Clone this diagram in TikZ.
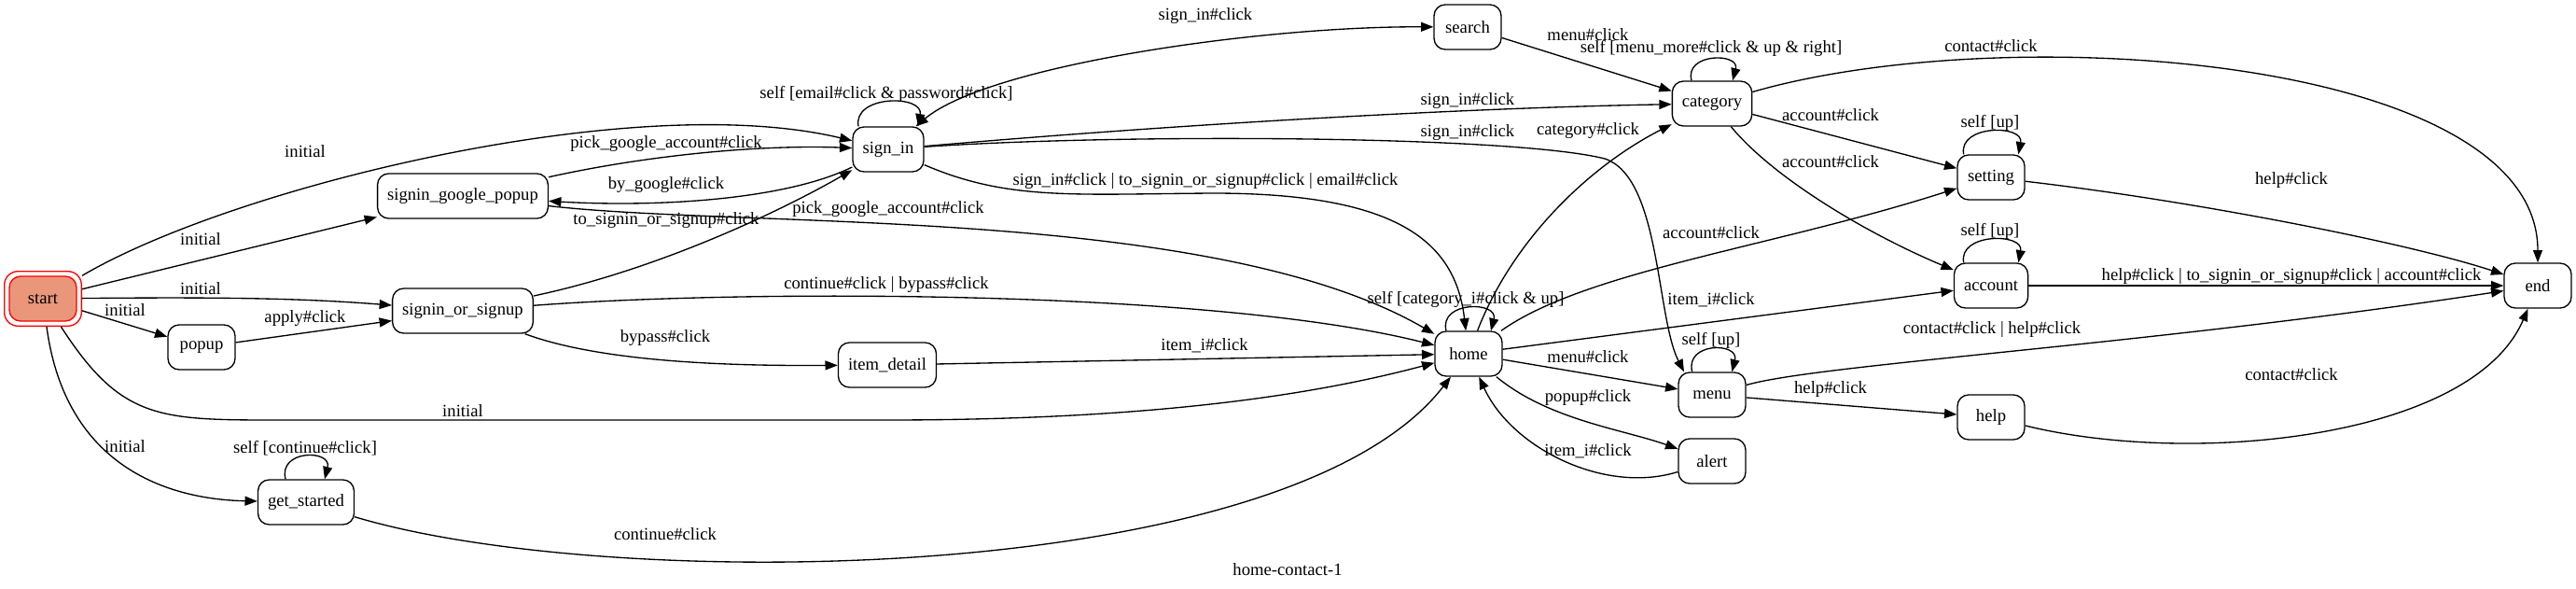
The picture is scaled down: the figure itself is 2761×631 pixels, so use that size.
\documentclass[tikz,border=0pt]{standalone}
\usepackage{fontspec}
\setmainfont{Liberation Serif}
\usetikzlibrary{arrows.meta}

\definecolor{startfill}{HTML}{E9967A}

\tikzset{
  state/.style={draw, line width=1pt, rounded corners=9pt, minimum width=54pt,
    minimum height=36pt, inner xsep=7.9pt, inner ysep=0pt,
    font=\fontsize{14}{16}\selectfont},
  ring/.style={draw=red, line width=1pt, rounded corners=11pt,
    minimum width=62pt, minimum height=44pt},
  lbl/.style={inner sep=0pt, font=\fontsize{14}{16}\selectfont},
  edge/.style={line width=1pt, ->},
  twoway/.style={line width=1pt, <->},
}

\begin{document}
\begin{tikzpicture}[x=0.75pt, y=-0.75pt, line join=round,
    >={Triangle[length=10pt, width=7.5pt]}]
  \useasboundingbox (0,0) rectangle (2761,631);

  % States
  \node[ring] (start) at (46,320) {};
  \node[state, draw=red, fill=startfill] (start-in) at (start) {start};
  \node[state] (google) at (496,210) {signin\_google\_popup};
  \node[state] (choose) at (496,333) {signin\_or\_signup};
  \node[state] (popup) at (216,372) {popup};
  \node[state] (getstarted) at (328,538) {get\_started};
  \node[state] (signin) at (952,160) {sign\_in};
  \node[state] (detail) at (951,391) {item\_detail};
  \node[state] (home) at (1574,379) {home};
  \node[state] (search) at (1573,29) {search};
  \node[state] (category) at (1835,111) {category};
  \node[state] (setting) at (2134,190) {setting};
  \node[state] (account) at (2134,306) {account};
  \node[state] (menu) at (1835,423) {menu};
  \node[state] (alert) at (1835,494) {alert};
  \node[state] (help) at (2134,447) {help};
  \node[state] (finish) at (2720,306) {end};

  % From start
  \draw[edge] (start) .. controls (250,200) and (680,95) .. (signin);
  \draw[edge] (start) -- (google);
  \draw[edge] (start) .. controls (250,318) and (330,320) .. (choose);
  \draw[edge] (start) -- (popup);
  \draw[edge] (start) .. controls (130,450) and (170,450) .. (300,450) -- (950,450)
    .. controls (1250,450) and (1420,420) .. (home);
  \draw[edge] (start) .. controls (70,500) and (180,535) .. (getstarted);

  % Left part
  \draw[edge] (popup) -- (choose);
  \draw[edge] (google) .. controls (700,165) and (820,155) .. (signin);
  \draw[edge] (signin) .. controls (840,215) and (700,222) .. (google);
  \draw[edge] (google) .. controls (800,245) and (1300,220) .. (home);
  \draw[edge] (choose) .. controls (700,290) and (830,230) .. (signin);
  \draw[edge] (choose) .. controls (800,310) and (1300,310) .. (home);
  \draw[edge] (choose) .. controls (650,390) and (800,392) .. (detail);
  \draw[edge] (detail) -- (home);
  \draw[edge] ([xshift=-16.5pt]getstarted.north) .. controls +(-8,-32) and +(8,-32) .. ([xshift=15pt]getstarted.north);
  \draw[edge] (getstarted) .. controls (650,635) and (1380,630) .. (home);

  % sign_in
  \draw[edge] ([xshift=-24pt]signin.north) .. controls +(-6,-34) and +(6,-34) .. ([xshift=24pt]signin.north);
  \draw[twoway] (signin) .. controls (1060,70) and (1350,28) .. (search);
  \draw[edge] (signin) .. controls (1300,130) and (1600,115) .. (category);
  \draw[edge] (signin) .. controls (1200,143) and (1620,145) .. (1720,170)
    .. controls (1780,190) and (1775,340) .. ([xshift=5pt]menu.north west);
  \draw[edge] (signin) .. controls (1080,215) and (1150,208) .. (1300,207)
    .. controls (1500,207) and (1560,260) .. (home);

  % search, category
  \draw[edge] (search) -- (category);
  \draw[edge] ([xshift=-16.5pt]category.north) .. controls +(-8,-30) and +(8,-30) .. ([xshift=16.5pt]category.north);
  \draw[edge] (category) .. controls (2150,20) and (2720,60) .. (finish);
  \draw[edge] (category) -- (setting);
  \draw[edge] (category) .. controls (1900,190) and (2000,250) .. (account);

  % home
  \draw[edge] ([xshift=-18pt]home.north) .. controls +(-8,-32) and +(8,-32) .. ([xshift=18pt]home.north);
  \draw[edge] (home) .. controls (1620,260) and (1700,180) .. (category);
  \draw[edge] (home) .. controls (1700,290) and (1900,265) .. (setting);
  \draw[edge] (home) -- (account);
  \draw[edge] (home) -- (menu);
  \draw[edge] (home) .. controls (1660,450) and (1740,460) .. (alert);
  \draw[edge] (alert) .. controls (1720,530) and (1620,480) .. (home);

  % menu
  \draw[edge] ([xshift=-16pt]menu.north) .. controls +(-8,-32) and +(8,-32) .. ([xshift=16pt]menu.north);
  \draw[edge] (menu) .. controls (1950,390) and (2300,370) .. (finish);
  \draw[edge] (menu) -- (help);

  % setting, account, help
  \draw[edge] ([xshift=-22pt]setting.north) .. controls +(-6,-32) and +(6,-32) .. ([xshift=22pt]setting.north);
  \draw[edge] (setting) .. controls (2350,215) and (2580,260) .. (finish);
  \draw[edge] ([xshift=-22pt]account.north) .. controls +(-6,-32) and +(6,-32) .. ([xshift=22pt]account.north);
  \draw[edge] (account) -- (finish);
  \draw[edge] (help) .. controls (2350,500) and (2650,470) .. (finish);

  % Labels
  \node[lbl] (l1) at (327,162) {initial};
  \node[lbl] (l2) at (215,256) {initial};
  \node[lbl] (l3) at (215,309) {initial};
  \node[lbl] (l4) at (134,332) {initial};
  \node[lbl] (l5) at (327,341) {apply\#click};
  \node[lbl] (l6) at (496,440) {initial};
  \node[lbl] (l7) at (134,478) {initial};
  \node[lbl] (l8) at (327,480) {self [continue\#click]};
  \node[lbl] (l9) at (713,572) {continue\#click};
  \node[lbl] (l10) at (714,154) {pick\_google\_account\#click};
  \node[lbl] (l11) at (714,198) {by\_google\#click};
  \node[lbl] (l12) at (714,236) {to\_signin\_or\_signup\#click};
  \node[lbl] (l13) at (952,224) {pick\_google\_account\#click};
  \node[lbl] (l14) at (950,305) {continue\#click | bypass\#click};
  \node[lbl] (l15) at (713,362) {bypass\#click};
  \node[lbl] (l16) at (1291,370) {item\_i\#click};
  \node[lbl] (l17) at (950,101) {self [email\#click \& password\#click]};
  \node[lbl] (l18) at (1292,17) {sign\_in\#click};
  \node[lbl] (l19) at (1702,37) {menu\#click};
  \node[lbl] (l20) at (1834,52) {self [menu\_more\#click \& up \& right]};
  \node[lbl] (l21) at (1573,108) {sign\_in\#click};
  \node[lbl] (l22) at (1573,142) {sign\_in\#click};
  \node[lbl] (l23) at (1292,194) {sign\_in\#click | to\_signin\_or\_signup\#click | email\#click};
  \node[lbl] (l24) at (1571,321) {self [category\_i\#click \& up]};
  \node[lbl] (l25) at (1702,140) {category\#click};
  \node[lbl] (l26) at (1834,249) {account\#click};
  \node[lbl] (l27) at (1834,321) {item\_i\#click};
  \node[lbl] (l28) at (1702,382) {menu\#click};
  \node[lbl] (l29) at (1702,426) {popup\#click};
  \node[lbl] (l30) at (1702,483) {item\_i\#click};
  \node[lbl] (l31) at (1834,365) {self [up]};
  \node[lbl] (l32) at (2135,353) {contact\#click | help\#click};
  \node[lbl] (l33) at (1962,417) {help\#click};
  \node[lbl] (l34) at (2134,49) {contact\#click};
  \node[lbl] (l35) at (1962,123) {account\#click};
  \node[lbl] (l36) at (1962,173) {account\#click};
  \node[lbl] (l37) at (2133,132) {self [up]};
  \node[lbl] (l38) at (2456,193) {help\#click};
  \node[lbl] (l39) at (2133,248) {self [up]};
  \node[lbl] (l40) at (2456,296) {help\#click | to\_signin\_or\_signup\#click | account\#click};
  \node[lbl] (l41) at (2456,401) {contact\#click};
  \node[lbl] (title) at (1380,610) {home-contact-1};
\end{tikzpicture}
\end{document}
